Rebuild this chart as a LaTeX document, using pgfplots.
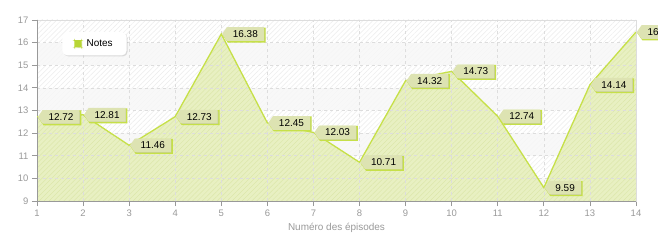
\documentclass[border=0pt]{standalone}
\usepackage{fontspec}
\setmainfont{Liberation Sans}
\usepackage{pgfplots}
\pgfplotsset{compat=1.18}
\usetikzlibrary{patterns.meta,shapes.symbols,shadows}
\definecolor{areac}{HTML}{E8F0C2}
\definecolor{areahatch}{HTML}{DCE7AA}
\definecolor{linec}{HTML}{C6E048}
\definecolor{tagc}{HTML}{DDE3B2}
\definecolor{tagsh}{HTML}{C5CC9C}
\definecolor{legc}{HTML}{B8D634}
\definecolor{hatchc}{HTML}{ECECEC}
\definecolor{bandc}{HTML}{F7F7F7}
\definecolor{gridc}{HTML}{DDDDDD}
\definecolor{axgray}{HTML}{999999}
\definecolor{labgray}{HTML}{999999}
\begin{document}
\begin{tikzpicture}
\begin{axis}[
  set layers,
  scale only axis, width=599bp, height=181bp,
  xmin=1, xmax=14, ymin=9, ymax=17,
  xtick={1,...,14}, ytick={9,...,17},
  tick pos=left, tick align=outside, major tick length=5bp,
  tick style={color=axgray, line width=0.8bp},
  grid=major, grid style={dashed, color=gridc, line width=0.7bp},
  axis line style={draw=gridc, line width=0.8bp},
  /pgf/number format/assume math mode=true,
  ticklabel style={font=\fontsize{9.5}{11}\selectfont, text=labgray},
  xlabel={Numéro des épisodes},
  xlabel style={font=\fontsize{10}{12}\selectfont, text=labgray, at={(axis description cs:0.5,-0.149)}, anchor=center},
  legend style={at={(axis description cs:0.042,0.934)}, anchor=north west, draw=none, fill=white,
    rounded corners=5bp, font=\fontsize{10}{12}\selectfont,
    inner xsep=12bp, inner ysep=5.5bp,
    drop shadow={shadow xshift=1bp, shadow yshift=-1bp, fill=black, opacity=0.12}},
  legend image code/.code={\fill[legc] (0bp,-3bp) rectangle (6bp,3bp); \path (9bp,0bp);},
]
\begin{pgfonlayer}{axis background}
  \fill[white] (rel axis cs:0,0) rectangle (rel axis cs:1,1);
  \fill[pattern={Lines[angle=45,distance=3.5bp,line width=0.5bp]}, pattern color=hatchc] (rel axis cs:0,0) rectangle (rel axis cs:1,1);
  \fill[bandc, opacity=0.8] (axis cs:1,15) rectangle (axis cs:14,16);
  \fill[bandc, opacity=0.8] (axis cs:1,13) rectangle (axis cs:14,14);
  \fill[bandc, opacity=0.8] (axis cs:1,11) rectangle (axis cs:14,12);
  \fill[bandc, opacity=0.8] (axis cs:1,9) rectangle (axis cs:14,10);
\end{pgfonlayer}
\addplot[on layer=axis background, fill=areac, draw=none, forget plot] coordinates {
 (1,12.72) (2,12.81) (3,11.46) (4,12.73) (5,16.38) (6,12.45) (7,12.03)
 (8,10.71) (9,14.32) (10,14.73) (11,12.74) (12,9.59) (13,14.14) (14,16.47)
} \closedcycle;
\addplot[on layer=axis background, pattern={Lines[angle=45,distance=3.5bp,line width=0.5bp]}, pattern color=areahatch, draw=none, forget plot] coordinates {
 (1,12.72) (2,12.81) (3,11.46) (4,12.73) (5,16.38) (6,12.45) (7,12.03)
 (8,10.71) (9,14.32) (10,14.73) (11,12.74) (12,9.59) (13,14.14) (14,16.47)
} \closedcycle;
\addplot[color=linec, line width=1.3bp, mark=none,
  point meta=explicit symbolic,
  nodes near coords={\pgfplotspointmeta},
  every node near coord/.style={anchor=west, shape=signal, signal to=west, signal pointer angle=110,
     fill=tagc, text=black, inner xsep=6bp, inner ysep=3.3bp, font=\fontsize{10}{12}\selectfont,
     drop shadow={shadow xshift=1.2bp, shadow yshift=-1bp, fill=tagsh, opacity=1}},
] coordinates {
 (1,12.72)[12.72] (2,12.81)[12.81] (3,11.46)[11.46] (4,12.73)[12.73] (5,16.38)[16.38]
 (6,12.45)[12.45] (7,12.03)[12.03] (8,10.71)[10.71] (9,14.32)[14.32] (10,14.73)[14.73]
 (11,12.74)[12.74] (12,9.59)[9.59] (13,14.14)[14.14] (14,16.47)[16.47]
};
\addlegendentry{Notes}
\begin{pgfonlayer}{axis lines}
  \draw[axgray, line width=0.9bp] (rel axis cs:0,1) -- (rel axis cs:0,0) -- (rel axis cs:1,0);
\end{pgfonlayer}
\end{axis}
\pgfresetboundingbox
\path[use as bounding box] (-37bp,-39bp) rectangle (621bp,201bp);
\end{tikzpicture}
\end{document}
